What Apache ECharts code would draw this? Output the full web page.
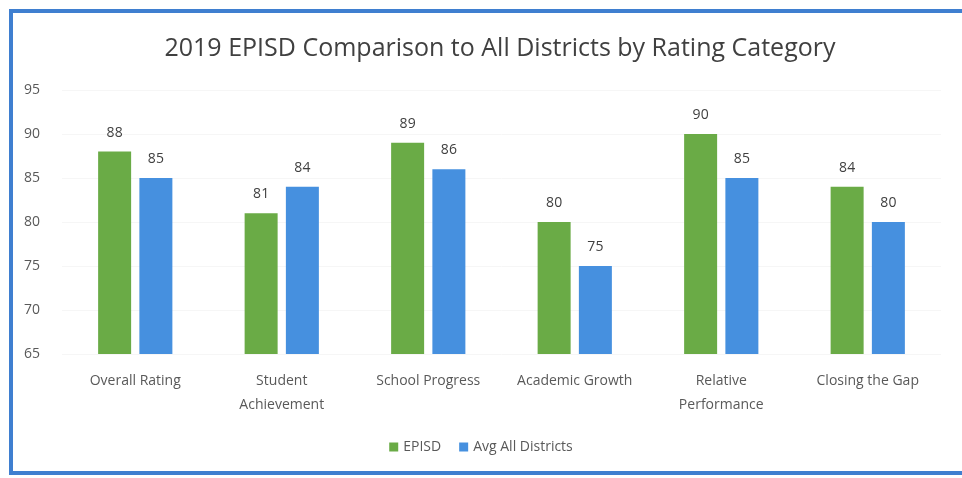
<!DOCTYPE html>
<html>
<head>
<meta charset="utf-8">
<script src="https://cdn.jsdelivr.net/npm/echarts@6/dist/echarts.min.js"></script>
<style>html,body{margin:0;padding:0;background:#fff}#c{width:962px;height:478px}</style>
</head>
<body>
<div id="c"></div>
<script>
const categories = ['Overall Rating', 'Student\nAchievement', 'School Progress', 'Academic Growth', 'Relative\nPerformance', 'Closing the Gap'];
const episd = [88, 81, 89, 80, 90, 84];
const avgAll = [85, 84, 86, 75, 85, 80];
const seriesNames = ['EPISD', 'Avg All Districts'];
const titleText = '2019 EPISD Comparison to All Districts by Rating Category';

const FONT = '"Open Sans", "Noto Sans", sans-serif';
const chart = echarts.init(document.getElementById('c'), null, {renderer: 'canvas'});
chart.setOption({
  backgroundColor: '#ffffff',
  animation: false,
  graphic: [{
    type: 'rect',
    shape: {x: 11, y: 11, width: 980, height: 462},
    style: {fill: 'none', stroke: '#3f7fd0', lineWidth: 4}
  }],
  title: {
    text: titleText,
    left: 495, top: 31, textAlign: 'center',
    textStyle: {fontFamily: FONT, fontSize: 25, fontWeight: 'normal', color: '#404040'}
  },
  legend: {
    data: seriesNames,
    bottom: 19, left: 'center',
    itemWidth: 9, itemHeight: 9, itemGap: 18,
    icon: 'rect',
    textStyle: {fontFamily: FONT, fontSize: 14, color: '#595959'}
  },
  grid: {left: 62, right: 21, top: 90, bottom: 124, containLabel: false},
  xAxis: {
    type: 'category',
    data: categories,
    axisLine: {show: false},
    axisTick: {show: false},
    axisLabel: {fontFamily: FONT, fontSize: 14, color: '#595959', margin: 15, lineHeight: 24, interval: 0}
  },
  yAxis: {
    type: 'value',
    min: 65, max: 95, interval: 5,
    axisLine: {show: false},
    axisTick: {show: false},
    axisLabel: {fontFamily: FONT, fontSize: 14, color: '#595959', align: 'left', margin: 38},
    splitLine: {show: true, lineStyle: {color: '#f6f6f6', width: 1}}
  },
  series: [
    {
      name: seriesNames[0], type: 'bar', data: episd,
      barWidth: 33, barGap: '25%',
      itemStyle: {color: '#6aab46'},
      label: {show: true, position: 'top', distance: 12, fontFamily: FONT, fontSize: 14, color: '#404040'}
    },
    {
      name: seriesNames[1], type: 'bar', data: avgAll,
      barWidth: 33, barGap: '25%',
      itemStyle: {color: '#4690df'},
      label: {show: true, position: 'top', distance: 12, fontFamily: FONT, fontSize: 14, color: '#404040'}
    }
  ]
});
</script>
</body>
</html>
